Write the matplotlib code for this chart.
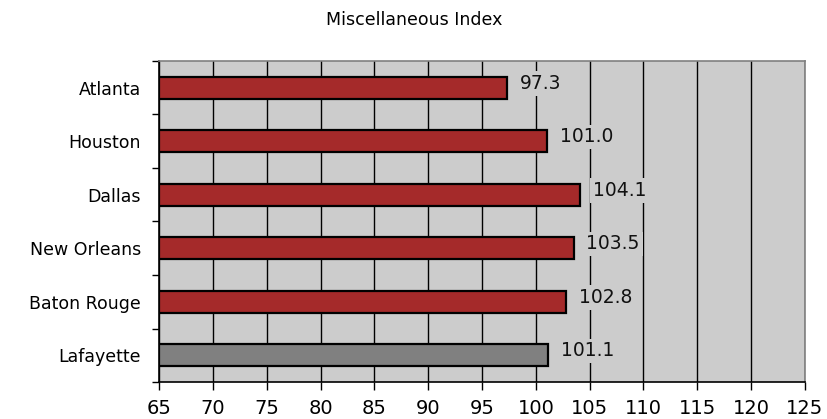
import matplotlib
matplotlib.use("Agg")
import matplotlib.pyplot as plt
import numpy as np

categories = ["Atlanta", "Houston", "Dallas", "New Orleans", "Baton Rouge", "Lafayette"]
values = [97.3, 101.0, 104.1, 103.5, 102.8, 101.1]
colors = ["#a52a2a", "#a52a2a", "#a52a2a", "#a52a2a", "#a52a2a", "#808080"]
xticks = [65, 70, 75, 80, 85, 90, 95, 100, 105, 110, 115, 120, 125]
title = "Miscellaneous Index"

plt.rcParams['font.family'] = ['DejaVu Sans']

fig = plt.figure(figsize=(8.28, 4.19), dpi=100)
ax = fig.add_axes([159/828, 37/419, (805-159)/828, (382-61)/419])
bg = "#cccccc"
ax.set_facecolor(bg)

y = np.arange(len(categories))
base = xticks[0]
ax.barh(y, [v - base for v in values], left=base, height=0.41, color=colors,
        edgecolor="black", linewidth=1.6, zorder=3)

for yi, v in zip(y, values):
    ax.text(v + 1.2, yi - 0.08, f"{v:.1f}", va="center", ha="left", fontsize=13.5,
            color="#111111", zorder=4,
            bbox=dict(facecolor=bg, edgecolor="none", pad=2))

ax.set_xlim(xticks[0], xticks[-1])
ax.set_ylim(len(categories) - 0.5, -0.5)
ax.set_xticks(xticks)
ax.set_xticklabels([str(t) for t in xticks], fontsize=14)
ax.xaxis.grid(True, color="black", linewidth=1.0, zorder=1)
ax.set_axisbelow(True)

ax.set_yticks(y)
ax.set_yticklabels(categories, fontsize=12.5)
ax.tick_params(axis="y", which="major", length=0, pad=13)
ax.set_yticks(np.arange(-0.5, len(categories)), minor=True)
ax.tick_params(axis="y", which="minor", length=5, width=1, direction="out")
ax.tick_params(axis="x", length=6, width=1, direction="out", pad=6)

for s in ["left", "bottom"]:
    ax.spines[s].set_color("black")
    ax.spines[s].set_linewidth(1.2)
for s in ["top", "right"]:
    ax.spines[s].set_color("#808080")
    ax.spines[s].set_linewidth(1.2)

fig.text(0.5, 1 - 20/419, title, ha="center", va="center", fontsize=12.5)

fig.savefig("out.png", dpi=100)
